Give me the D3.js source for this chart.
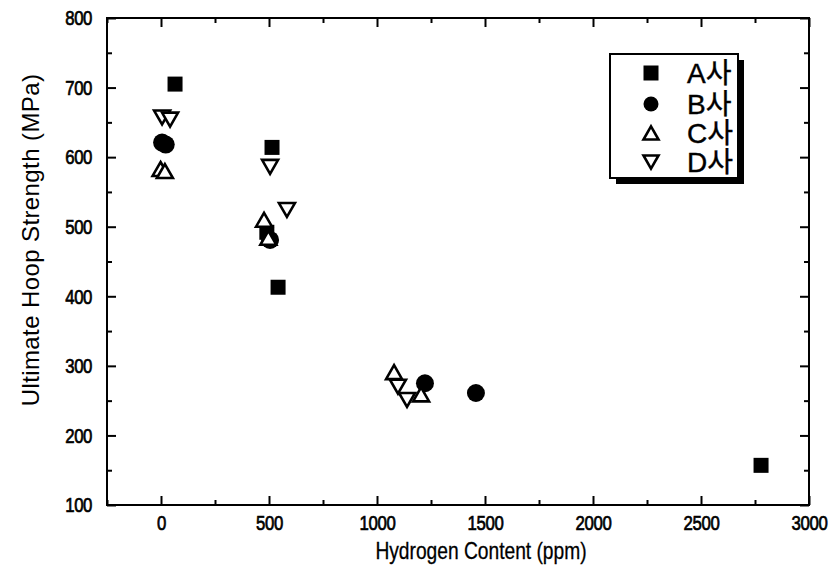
<!DOCTYPE html>
<html>
<head>
<meta charset="utf-8">
<script src="https://cdn.jsdelivr.net/npm/d3@7"></script>
<style>
  body { margin: 0; background: #fff; }
  svg { display: block; }
  .axis path { display: none; }
  .axis line { stroke: #000; stroke-width: 2; }
  .axis text { font-family: Arial, "Liberation Sans", sans-serif; font-size: 21px; fill: #000; stroke: #000; stroke-width: 0.7; letter-spacing: -0.5px; }
</style>
</head>
<body>
<script>
// values
var seriesNames = ["A사", "B사", "C사", "D사"];
var aX = [65, 514, 490, 542, 2778],  aY = [705, 614, 492, 413, 157];
var bX = [5, 22, 505, 1222, 1458],   bY = [621, 618, 481, 275, 261];
var cX = [-2, 18, 477, 497, 1079, 1204], cY = [583, 580, 510, 484, 291, 259];
var dX = [5, 42, 505, 583, 1097, 1139],  dY = [657, 654, 586, 524, 270, 251];
var xTicks = [0, 500, 1000, 1500, 2000, 2500, 3000];
var xMinor = [-250, 250, 750, 1250, 1750, 2250, 2750];
var yTicks = [100, 200, 300, 400, 500, 600, 700, 800];
var yMinor = [150, 250, 350, 450, 550, 650, 750];

var W = 837, H = 573;
var pL = 107, pR = 809, pT = 18, pB = 505;
var squeeze = 0.8;   // the scan is narrow in x

var x = d3.scaleLinear().domain([-250, 3000]).range([pL, pR]);
var y = d3.scaleLinear().domain([100, 800]).range([pB, pT]);

var svg = d3.select("body").append("svg")
    .attr("width", W)
    .attr("height", H);

// ticks, all pointing in
var xb = svg.append("g").attr("class", "axis")
    .attr("transform", "translate(0," + pB + ")")
    .call(d3.axisBottom(x).tickValues(xTicks).tickSize(-9).tickPadding(10).tickFormat(d3.format("d")));
xb.selectAll("text").attr("transform", "scale(" + squeeze + ",1)");
svg.append("g").attr("class", "axis")
    .attr("transform", "translate(0," + pB + ")")
    .call(d3.axisBottom(x).tickValues(xMinor).tickSize(-5).tickFormat(""));
svg.append("g").attr("class", "axis")
    .attr("transform", "translate(0," + pT + ")")
    .call(d3.axisTop(x).tickValues(xTicks).tickSize(-9).tickFormat(""));
svg.append("g").attr("class", "axis")
    .attr("transform", "translate(0," + pT + ")")
    .call(d3.axisTop(x).tickValues(xMinor).tickSize(-5).tickFormat(""));

var yl = svg.append("g").attr("class", "axis")
    .attr("transform", "translate(" + pL + ",0)")
    .call(d3.axisLeft(y).tickValues(yTicks).tickSize(-9).tickPadding(15));
yl.selectAll("text").attr("x", -15 / squeeze).attr("transform", "scale(" + squeeze + ",1)");
svg.append("g").attr("class", "axis")
    .attr("transform", "translate(" + pL + ",0)")
    .call(d3.axisLeft(y).tickValues(yMinor).tickSize(-5).tickFormat(""));
svg.append("g").attr("class", "axis")
    .attr("transform", "translate(" + pR + ",0)")
    .call(d3.axisRight(y).tickValues(yTicks).tickSize(-9).tickFormat(""));
svg.append("g").attr("class", "axis")
    .attr("transform", "translate(" + pR + ",0)")
    .call(d3.axisRight(y).tickValues(yMinor).tickSize(-5).tickFormat(""));

svg.append("rect")
    .attr("x", pL).attr("y", pT)
    .attr("width", pR - pL).attr("height", pB - pT)
    .attr("fill", "none").attr("stroke", "#000").attr("stroke-width", 2);

// axis titles
svg.append("text")
    .attr("transform", "translate(481,559) scale(" + squeeze + ",1)")
    .attr("text-anchor", "middle")
    .style("font-family", "Arial, 'Liberation Sans', sans-serif")
    .style("font-size", "24px")
    .style("stroke", "#000").style("stroke-width", 0.3)
    .text("Hydrogen Content (ppm)");

svg.append("text")
    .attr("transform", "translate(39,240) rotate(-90)")
    .attr("text-anchor", "middle")
    .style("font-family", "Arial, 'Liberation Sans', sans-serif")
    .style("font-size", "24px")
    .style("letter-spacing", "0.4px")
    .text("Ultimate Hoop Strength (MPa)");

// markers
function square(g, s) {
  g.append("rect").attr("x", -s / 2).attr("y", -s / 2).attr("width", s).attr("height", s)
   .attr("fill", "#000");
}
function circle(g, s) {
  g.append("circle").attr("r", s / 2).attr("fill", "#000");
}
function triUp(g, s) {
  var h = s * 0.87;
  g.append("path").attr("d", "M0," + (-h / 2) + "L" + (s / 2) + "," + (h / 2) + "L" + (-s / 2) + "," + (h / 2) + "Z")
   .attr("fill", "#fff").attr("stroke", "#000").attr("stroke-width", 2.6);
}
function triDown(g, s) {
  var h = s * 0.87;
  g.append("path").attr("d", "M0," + (h / 2) + "L" + (s / 2) + "," + (-h / 2) + "L" + (-s / 2) + "," + (-h / 2) + "Z")
   .attr("fill", "#fff").attr("stroke", "#000").attr("stroke-width", 2.6);
}

var series = [
  {xs: aX, ys: aY, draw: square, size: 15},
  {xs: bX, ys: bY, draw: circle, size: 18},
  {xs: cX, ys: cY, draw: triUp, size: 16},
  {xs: dX, ys: dY, draw: triDown, size: 16}
];

series.forEach(function (s) {
  var pts = s.xs.map(function (v, i) { return [v, s.ys[i]]; });
  svg.append("g").selectAll("g")
    .data(pts)
    .enter().append("g")
    .attr("transform", function (d) { return "translate(" + x(d[0]) + "," + y(d[1]) + ")"; })
    .each(function () { s.draw(d3.select(this), s.size); });
});

// legend
var lg = svg.append("g");
lg.append("rect").attr("x", 616).attr("y", 60).attr("width", 128).attr("height", 124).attr("fill", "#000");
lg.append("rect").attr("x", 610).attr("y", 54).attr("width", 128).attr("height", 124)
  .attr("fill", "#fff").attr("stroke", "#000").attr("stroke-width", 2);
var rowY = [73, 104, 133, 162];
seriesNames.forEach(function (name, i) {
  var g = lg.append("g").attr("transform", "translate(651," + rowY[i] + ")");
  series[i].draw(g, 15);
  lg.append("text")
    .attr("x", 687).attr("y", rowY[i] + 10)
    .style("font-family", "Arial, 'Noto Sans CJK KR', sans-serif")
    .style("font-size", "28px")
    .style("stroke", "#000").style("stroke-width", 0.4)
    .text(name);
});
</script>
</body>
</html>
